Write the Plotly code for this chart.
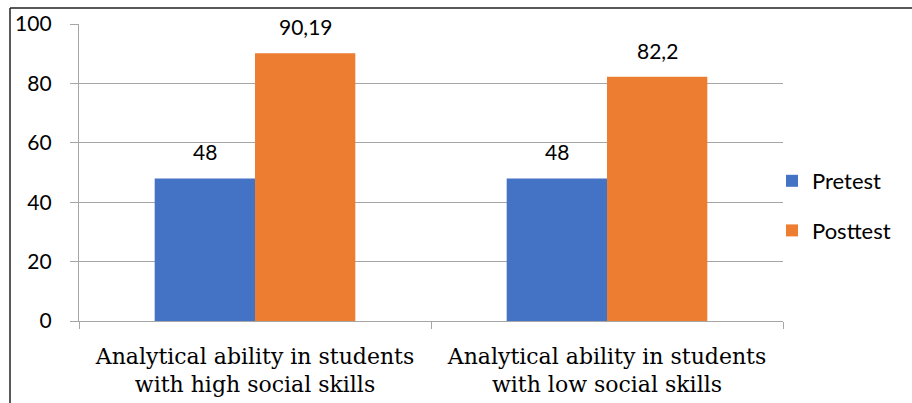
import plotly.graph_objects as go

categories = ["Analytical ability in students<br>with high social skills",
              "Analytical ability in students<br>with low social skills"]
series_names = ["Pretest", "Posttest"]
pretest = [48, 48]
posttest = [90.19, 82.2]
pretest_labels = ["48", "48"]
posttest_labels = ["90,19", "82,2"]
colors = ["#4472C4", "#ED7D31"]

fig = go.Figure()
fig.add_trace(go.Bar(x=categories, y=pretest, name=series_names[0],
                     marker=dict(color=colors[0], line=dict(width=0)),
                     legendgroup="a"))
fig.add_trace(go.Bar(x=categories, y=posttest, name=series_names[1],
                     marker=dict(color=colors[1], line=dict(width=0)),
                     legendgroup="b"))

annotations = []
for vals, labs, shift in [(pretest, pretest_labels, -50.5), (posttest, posttest_labels, 50.5)]:
    for c, v, t in zip(categories, vals, labs):
        annotations.append(dict(x=c, y=v, text=t, showarrow=False, xref="x", yref="y",
                                xshift=shift, yshift=12, yanchor="bottom",
                                font=dict(family="Lato", size=21, color="#000000")))

L, R, T, B = 79, 129, 24, 82
W, H = 912, 403
pw, ph = W - L - R, H - T - B
def px(x):
    return (x - L) / pw
def py(y):
    return (H - B - y) / ph

shapes = [
    dict(type="line", xref="paper", yref="paper", x0=px(10), x1=px(913), y0=py(8), y1=py(8),
         line=dict(color="#222222", width=1.5)),
    dict(type="line", xref="paper", yref="paper", x0=px(10), x1=px(10), y0=py(8), y1=py(404),
         line=dict(color="#222222", width=1.5)),
]

fig.update_layout(
    width=W, height=H,
    margin=dict(l=L, r=R, t=T, b=B, pad=0, autoexpand=False),
    paper_bgcolor="white", plot_bgcolor="white",
    barmode="group", bargap=0.43, bargroupgap=0,
    annotations=annotations, shapes=shapes,
    legend=dict(x=px(772), xanchor="left", y=py(206), yanchor="middle",
                font=dict(family="Lato", size=22, color="#000000"),
                tracegroupgap=18, bgcolor="rgba(0,0,0,0)"),
    xaxis=dict(showline=True, linecolor="#a6a6a6", linewidth=1.3,
               ticks="outside", tickson="boundaries", ticklen=7, tickcolor="#a6a6a6",
               tickwidth=1.3, ticklabelstandoff=15, automargin=False,
               tickfont=dict(family="DejaVu Serif", size=22, color="#000000"),
               showgrid=False),
    yaxis=dict(range=[0, 100], dtick=20, showline=True, linecolor="#a6a6a6", linewidth=1.3,
               ticks="outside", ticklen=8, tickcolor="#a6a6a6", tickwidth=1.3,
               ticklabelstandoff=14, automargin=False,
               gridcolor="#a6a6a6", gridwidth=1.3, zeroline=False,
               tickfont=dict(family="Lato", size=21, color="#000000")),
    showlegend=True,
)

fig.write_html("out.html")
